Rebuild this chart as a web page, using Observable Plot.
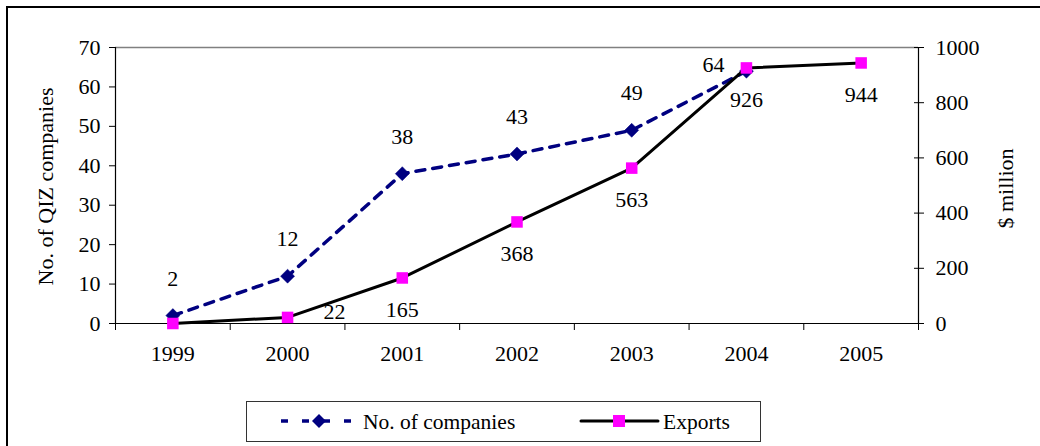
<!DOCTYPE html>
<html>
<head>
<meta charset="utf-8">
<script src="https://cdn.jsdelivr.net/npm/d3@7"></script>
<script src="https://cdn.jsdelivr.net/npm/@observablehq/plot@0.6"></script>
<style>
  html, body { margin: 0; padding: 0; background: #fff; }
  #wrap { position: relative; width: 1040px; height: 446px; overflow: hidden; font-family: "Liberation Serif", "Times New Roman", serif; }
  #frame { position: absolute; left: 6px; top: 6px; width: 1100px; height: 500px; border: 2px solid #000; box-sizing: border-box; }
  #chart { position: absolute; left: 0; top: 0; }
  #legend { position: absolute; left: 246px; top: 401px; width: 515px; height: 41px; border: 1.5px solid #333; box-sizing: border-box; background: #fff; }
  #legend svg { position: absolute; left: 0; top: 0; }
</style>
</head>
<body>
<div id="wrap">
  <div id="frame"></div>
  <div id="chart"></div>
  <div id="legend"></div>
</div>
<script>
// QIZ companies (left axis) and QIZ exports in $ million (right axis), 1999–2005
const years = [1999, 2000, 2001, 2002, 2003, 2004, 2005];
const companies = [2, 12, 38, 43, 49, 64, null];
const exportsMillion = [0, 22, 165, 368, 563, 926, 944];
const companyTicks = [0, 10, 20, 30, 40, 50, 60, 70];
const exportTicks = [0, 200, 400, 600, 800, 1000];
const seriesNames = ["No. of companies", "Exports"];

const navy = "#000080";
const magenta = "#FF00FF";
const dash = "9,8";
const serif = "Liberation Serif";

// exports are drawn on the companies scale: 1000 $m ↔ 70 companies
const ratio = 70 / 1000;

const rows = years.map((year, i) => ({year, companies: companies[i], exports: exportsMillion[i]}));
const companyRows = rows.filter(d => d.companies != null);
const exportRows = rows;

// category boundaries for the x tick marks
const bounds = years.map(y => y - 0.5).concat([years[years.length - 1] + 0.5]);
const xDomain = [bounds[0], bounds[bounds.length - 1]];

const chart = Plot.plot({
  width: 1040,
  height: 446,
  marginLeft: 115,
  marginRight: 122,
  marginTop: 47,
  marginBottom: 123,
  style: {fontFamily: serif, fontSize: "22px", color: "#000", background: "transparent"},
  x: {type: "linear", domain: xDomain},
  y: {domain: [0, 70]},
  marks: [
    // plot area edges
    Plot.ruleY([70], {stroke: "#808080", strokeWidth: 1.5}),
    Plot.ruleX([xDomain[0]], {stroke: "#000", strokeWidth: 1.2}),
    Plot.ruleX([xDomain[1]], {stroke: "#000", strokeWidth: 1.2}),
    // left axis
    Plot.axisY(companyTicks, {anchor: "left", tickSize: 6, tickPadding: 9, label: null, stroke: "#000", fill: "#000", fontSize: 22}),
    // right axis ($ million), ticks crossing the axis line
    Plot.axisY(exportTicks.map(v => v * ratio), {anchor: "right", tickSize: 10, dx: -5, tickPadding: 12, label: null,
      tickFormat: v => String(Math.round(v / ratio)), stroke: "#000", fill: "#000", fontSize: 22}),
    // x axis: tick marks between categories, labels at categories
    Plot.axisX(bounds, {tickSize: 7, tickFormat: () => "", label: null, stroke: "#000"}),
    Plot.axisX(years, {tickSize: 0, tickPadding: 22, tickFormat: d => String(d), label: null, fill: "#000", fontSize: 22}),
    Plot.ruleY([0], {stroke: "#000", strokeWidth: 1.2}),
    // axis titles
    Plot.text(["No. of QIZ companies"], {frameAnchor: "left", textAnchor: "middle", rotate: -90, dx: -70, dy: 1, fontSize: 22, fill: "#000"}),
    Plot.text(["$ million"], {frameAnchor: "right", textAnchor: "middle", rotate: -90, dx: 87, dy: 3, fontSize: 22, fill: "#000"}),
    // companies series
    Plot.line(companyRows, {x: "year", y: "companies", stroke: navy, strokeWidth: 3.5, strokeDasharray: dash}),
    Plot.dot(companyRows, {x: "year", y: "companies", symbol: "diamond2", r: 6.3, fill: navy, stroke: navy, strokeWidth: 0.5}),
    Plot.text(companyRows.filter(d => d.year !== 2004), {x: "year", y: "companies", text: d => String(d.companies), dy: -37, fill: "#000", fontSize: 22}),
    Plot.text(companyRows.filter(d => d.year === 2004), {x: "year", y: "companies", text: d => String(d.companies), dx: -33, dy: -6, fill: "#000", fontSize: 22}),
    // exports series
    Plot.line(exportRows, {x: "year", y: d => d.exports * ratio, stroke: "#000", strokeWidth: 3}),
    Plot.dot(exportRows, {x: "year", y: d => d.exports * ratio, symbol: "square", r: 6.5, fill: magenta, stroke: "none"}),
    Plot.text(exportRows.filter(d => d.exports > 0 && d.year !== 2000), {x: "year", y: d => d.exports * ratio, text: d => String(d.exports), dy: 32, fill: "#000", fontSize: 22}),
    Plot.text(exportRows.filter(d => d.year === 2000), {x: "year", y: d => d.exports * ratio, text: d => String(d.exports), dx: 47, dy: -5, fill: "#000", fontSize: 22})
  ]
});
document.getElementById("chart").appendChild(chart);

// legend
const lg = d3.select("#legend").append("svg").attr("width", 515).attr("height", 41);
const cy = 19;
lg.append("line").attr("x1", 34).attr("x2", 113).attr("y1", cy).attr("y2", cy)
  .attr("stroke", navy).attr("stroke-width", 3.5).attr("stroke-dasharray", "7,14");
lg.append("path").attr("d", d3.symbol(d3.symbolDiamond2, Math.PI * 6.3 * 6.3)())
  .attr("transform", `translate(72,${cy})`).attr("fill", navy);
lg.append("text").attr("x", 116).attr("y", cy).attr("dy", "0.35em")
  .attr("font-family", serif).attr("font-size", 21.5).text(seriesNames[0]);
lg.append("line").attr("x1", 334).attr("x2", 411).attr("y1", cy).attr("y2", cy)
  .attr("stroke", "#000").attr("stroke-width", 3).attr("stroke-linecap", "round");
lg.append("rect").attr("x", 366).attr("y", cy - 6).attr("width", 12).attr("height", 12).attr("fill", magenta);
lg.append("text").attr("x", 416).attr("y", cy).attr("dy", "0.35em")
  .attr("font-family", serif).attr("font-size", 21.5).text(seriesNames[1]);
</script>
</body>
</html>
